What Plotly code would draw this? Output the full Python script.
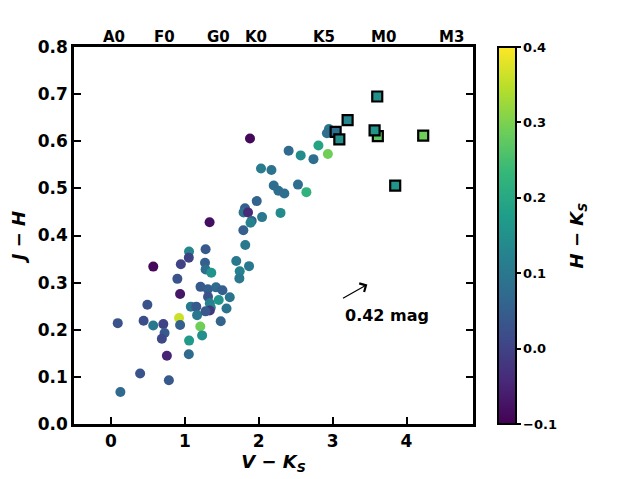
import plotly.graph_objects as go

# V-Ks, J-H and H-Ks for the field stars (circles)
vk_star = [0.128, 0.092, 0.395, 0.493, 0.442, 0.573, 0.572, 0.709, 0.726, 0.689,
           0.757, 0.784, 0.899, 0.936, 0.922, 0.936, 0.946, 1.057, 1.054, 1.058,
           1.054, 1.081, 1.155, 1.166, 1.212, 1.209, 1.234, 1.281, 1.273, 1.281,
           1.311, 1.314, 1.338, 1.351, 1.338, 1.280, 1.358, 1.335, 1.422, 1.459,
           1.509, 1.486, 1.564, 1.608, 1.696, 1.743, 1.738, 1.818, 1.869, 1.792,
           1.882, 1.973, 1.814, 1.795, 1.855, 1.905, 1.889, 2.045, 2.295, 2.031,
           2.172, 2.203, 2.266, 2.347, 2.405, 2.531, 2.568, 2.645, 2.741, 2.808,
           2.936, 2.950, 2.923]
jh_star = [0.068, 0.214, 0.107, 0.253, 0.219, 0.334, 0.209, 0.212, 0.193, 0.181,
           0.145, 0.093, 0.308, 0.276, 0.225, 0.210, 0.339, 0.366, 0.353, 0.177,
           0.148, 0.249, 0.249, 0.231, 0.291, 0.207, 0.188, 0.371, 0.342, 0.328,
           0.286, 0.270, 0.256, 0.247, 0.241, 0.239, 0.321, 0.428, 0.290, 0.263,
           0.284, 0.218, 0.245, 0.269, 0.346, 0.324, 0.309, 0.380, 0.335, 0.411,
           0.606, 0.473, 0.458, 0.449, 0.449, 0.431, 0.427, 0.439, 0.448, 0.542,
           0.539, 0.506, 0.495, 0.489, 0.580, 0.508, 0.570, 0.492, 0.562, 0.591,
           0.573, 0.626, 0.617]
hk_star = [0.07, 0.03, 0.03, 0.03, 0.02, -0.09, 0.10, 0.00, 0.04, 0.01,
           -0.05, 0.04, 0.03, -0.07, 0.36, 0.05, 0.00, 0.13, 0.00, 0.17,
           0.07, 0.10, 0.04, 0.10, 0.04, 0.29, 0.15, 0.04, 0.05, 0.08,
           0.05, 0.03, 0.12, 0.13, -0.02, 0.04, 0.16, -0.08, 0.07, 0.16,
           0.05, 0.06, 0.09, 0.09, 0.10, 0.12, 0.10, 0.10, 0.10, 0.05,
           -0.09, 0.06, 0.05, 0.09, -0.04, 0.05, 0.12, 0.10, 0.14, 0.11,
           0.09, 0.08, 0.08, 0.08, 0.07, 0.08, 0.14, 0.22, 0.08, 0.19,
           0.29, 0.10, 0.08]

# M dwarfs (squares)
vk_m = [3.041, 3.091, 3.203, 3.604, 3.612, 3.568, 4.226, 3.847]
jh_m = [0.620, 0.604, 0.645, 0.695, 0.611, 0.623, 0.612, 0.506]
hk_m = [0.08, 0.15, 0.13, 0.15, 0.27, 0.16, 0.29, 0.16]

# spectral types along the top
sp_names = ["A0", "F0", "G0", "K0", "K5", "M0", "M3"]
sp_vk = [0.04, 0.73, 1.45, 1.96, 2.89, 3.69, 4.61]

fnt = "DejaVu Sans"

fig = go.Figure()
fig.add_trace(go.Scatter(x=vk_star, y=jh_star, mode="markers",
                         marker=dict(size=10, color=hk_star, coloraxis="coloraxis",
                                     line=dict(width=0)),
                         showlegend=False))
fig.add_trace(go.Scatter(x=vk_m, y=jh_m, mode="markers",
                         marker=dict(size=10, symbol="square", color=hk_m,
                                     coloraxis="coloraxis",
                                     line=dict(width=2.2, color="black")),
                         showlegend=False))

for name, xv in zip(sp_names, sp_vk):
    fig.add_annotation(x=xv, y=1, xref="x", yref="paper", yanchor="bottom",
                       text="<b>%s</b>" % name, showarrow=False,
                       font=dict(family=fnt, size=15, color="black"), yshift=-1)

# reddening vector
fig.add_annotation(x=3.47, y=0.296, ax=3.12, ay=0.265, xref="x", yref="y",
                   axref="x", ayref="y", text="", showarrow=True,
                   arrowhead=4, arrowsize=1.6, arrowwidth=1.2, arrowcolor="black",
                   standoff=0, startstandoff=0)
fig.add_annotation(x=3.73, y=0.231, xref="x", yref="y", text="<b>0.42 mag</b>",
                   showarrow=False, font=dict(family=fnt, size=16, color="black"))

# colour bar label, placed by hand
fig.add_annotation(x=1.263, y=0.5, xref="paper", yref="paper", textangle=-90,
                   xanchor="center", yanchor="middle",
                   text="<b><i>H \u2212 K<sub>S</sub></i></b>", showarrow=False,
                   font=dict(family=fnt, size=18, color="black"))

fig.update_layout(
    width=617, height=471,
    margin=dict(l=66, r=152, t=39, b=55, autoexpand=False),
    plot_bgcolor="white", paper_bgcolor="white",
    font=dict(family=fnt, color="black"),
    coloraxis=dict(
        colorscale="Viridis", cmin=-0.1, cmax=0.4,
        colorbar=dict(
            x=1.063, xanchor="left", xpad=0, y=0.5, yanchor="middle",
            len=1, lenmode="fraction", ypad=0, thickness=18,
            outlinewidth=2, outlinecolor="black",
            ticks="outside", ticklen=4, tickwidth=1.5, tickcolor="black",
            tickvals=[-0.1, 0.0, 0.1, 0.2, 0.3, 0.4],
            ticktext=["<b>\u22120.1</b>", "<b>0.0</b>", "<b>0.1</b>",
                      "<b>0.2</b>", "<b>0.3</b>", "<b>0.4</b>"],
            tickfont=dict(family=fnt, size=13, color="black"),
        ),
    ),
)

fig.update_xaxes(
    range=[-0.5, 4.9], showgrid=False, zeroline=False,
    showline=True, linewidth=2.5, linecolor="black", mirror=True,
    ticks="inside", ticklen=7, tickwidth=2, tickcolor="black",
    tickvals=[0, 1, 2, 3, 4], ticktext=["<b>0</b>", "<b>1</b>", "<b>2</b>", "<b>3</b>", "<b>4</b>"],
    tickfont=dict(family=fnt, size=17, color="black"),
    title=dict(text="<b><i>V \u2212 K<sub>S</sub></i></b>", standoff=4,
               font=dict(family=fnt, size=18, color="black")),
)
yv = [0.0, 0.1, 0.2, 0.3, 0.4, 0.5, 0.6, 0.7, 0.8]
fig.update_yaxes(
    range=[0, 0.8], showgrid=False, zeroline=False,
    showline=True, linewidth=2.5, linecolor="black", mirror="ticks",
    ticks="inside", ticklen=7, tickwidth=2, tickcolor="black",
    tickvals=yv, ticktext=["<b>%.1f</b>" % v for v in yv],
    tickfont=dict(family=fnt, size=17, color="black"),
    title=dict(text="<b><i>J \u2212 H</i></b>", standoff=16,
               font=dict(family=fnt, size=18, color="black")),
)

fig.write_html("out.html")
